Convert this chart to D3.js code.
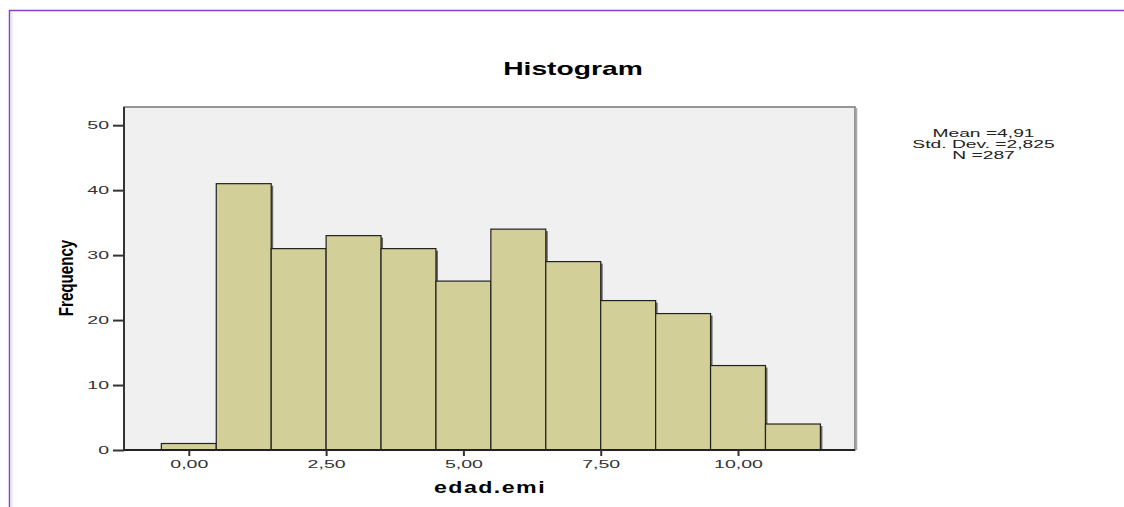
<!DOCTYPE html>
<html>
<head>
<meta charset="utf-8">
<script src="https://cdn.jsdelivr.net/npm/d3@7"></script>
<style>
  body { margin: 0; background: #fff; }
  svg { display: block; }
  .tick text { font-family: "Liberation Sans", Arial, sans-serif; font-size: 11.5px; fill: #333; }
</style>
</head>
<body>
<div id="chart"></div>
<script>
// histogram bins (centre of each bin) and counts
var binCenters = [0, 1, 2, 3, 4, 5, 6, 7, 8, 9, 10, 11];
var counts = [1, 41, 31, 33, 31, 26, 34, 29, 23, 21, 13, 4];
var xTicks = [0, 2.5, 5, 7.5, 10];
var yTicks = [0, 10, 20, 30, 40, 50];
var statsLines = ["Mean =4,91", "Std. Dev. =2,825", "N =287"];

var W = 1124, H = 507;
var plot = { left: 124, top: 107, right: 855, bottom: 450 };
var stretch = 1.57; // the picture is wider than it is tall, text looks stretched
var tickStretch = 1.7;

var svg = d3.select("#chart").append("svg").attr("width", W).attr("height", H);

// purple frame around the output
svg.append("line").attr("x1", 9).attr("x2", W).attr("y1", 10.5).attr("y2", 10.5)
  .attr("stroke", "#8b3fd3").attr("stroke-width", 1.5);
svg.append("line").attr("x1", 9.5).attr("x2", 9.5).attr("y1", 10).attr("y2", H)
  .attr("stroke", "#8b3fd3").attr("stroke-width", 1.5);
svg.append("line").attr("x1", 11.5).attr("x2", 11.5).attr("y1", 12).attr("y2", H)
  .attr("stroke", "#e6e6ee").attr("stroke-width", 2);

var x = d3.scaleLinear().domain([-1.18, 12.13]).range([plot.left, plot.right]);
var y = d3.scaleLinear().domain([0, 52.8]).range([plot.bottom, plot.top]);

// plot background
svg.append("rect")
  .attr("x", plot.left).attr("y", plot.top)
  .attr("width", plot.right - plot.left).attr("height", plot.bottom - plot.top)
  .attr("fill", "#f0f0f0").attr("stroke", "#777").attr("stroke-width", 1.5);
// shadow on right of plot
svg.append("line").attr("x1", plot.right + 1.5).attr("x2", plot.right + 1.5)
  .attr("y1", plot.top + 1).attr("y2", plot.bottom)
  .attr("stroke", "#aaa").attr("stroke-width", 1.5);

// bars
var bars = svg.append("g").selectAll("g").data(counts).enter().append("g");
bars.append("rect") // shadow
  .attr("x", function (d, i) { return x(binCenters[i] - 0.5) + 2; })
  .attr("y", function (d) { return y(d) + 2; })
  .attr("width", function (d, i) { return x(binCenters[i] + 0.5) - x(binCenters[i] - 0.5); })
  .attr("height", function (d) { return y(0) - y(d) - 2; })
  .attr("fill", "#666");
bars.append("rect")
  .attr("x", function (d, i) { return x(binCenters[i] - 0.5); })
  .attr("y", function (d) { return y(d); })
  .attr("width", function (d, i) { return x(binCenters[i] + 0.5) - x(binCenters[i] - 0.5); })
  .attr("height", function (d) { return y(0) - y(d); })
  .attr("fill", "#d3cf98")
  .attr("stroke", "#222")
  .attr("stroke-width", 1.2);

// axes
var yAxis = d3.axisLeft(y).tickValues(yTicks).tickSize(11).tickPadding(4).tickFormat(d3.format("d"));
var gy = svg.append("g").attr("transform", "translate(" + plot.left + ",0)").call(yAxis);
gy.select(".domain").attr("d", "M0," + plot.bottom + "V" + plot.top).attr("stroke", "#333").attr("stroke-width", 2);
gy.selectAll(".tick line").attr("stroke", "#333").attr("stroke-width", 2);
gy.selectAll(".tick text").attr("x", -15 / tickStretch).attr("transform", "scale(" + tickStretch + ",1)");

var fmtX = function (d) { return d3.format(".2f")(d).replace(".", ","); };
var xAxis = d3.axisBottom(x).tickValues(xTicks).tickSize(6).tickPadding(4).tickFormat(fmtX);
var gx = svg.append("g").attr("transform", "translate(0," + plot.bottom + ")").call(xAxis);
gx.select(".domain").attr("d", "M" + plot.left + ",0H" + plot.right).attr("stroke", "#222").attr("stroke-width", 2);
gx.selectAll(".tick line").attr("stroke", "#333").attr("stroke-width", 2);
gx.selectAll(".tick text").attr("transform", "scale(" + tickStretch + ",1)");

function label(px, py, sx, sy, rot) {
  return svg.append("g")
    .attr("transform", "translate(" + px + "," + py + ")" + (rot ? " rotate(" + rot + ")" : "") + " scale(" + sx + "," + sy + ")")
    .append("text")
    .attr("text-anchor", "middle")
    .style("font-family", "Liberation Sans, Arial, sans-serif");
}

// titles
label(573, 75, stretch, 1).style("font-weight", "bold").style("font-size", "18px").text("Histogram");

label(490, 493, 1.45, 1).style("font-weight", "bold").style("font-size", "16px")
  .style("letter-spacing", "1px").text("edad.emi");

label(73, 278, 0.72, 1, -90).style("font-weight", "bold").style("font-size", "21px").text("Frequency");

// summary stats
statsLines.forEach(function (s, i) {
  label(983.5, 137 + i * 11, 1.75, 1).style("font-size", "11px").style("fill", "#222").text(s);
});
</script>
</body>
</html>
